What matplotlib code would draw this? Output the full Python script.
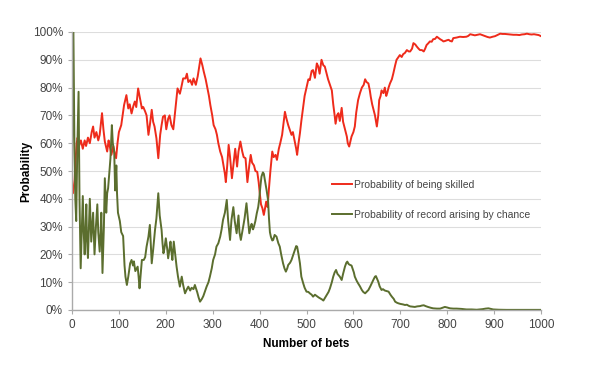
import matplotlib as mpl
mpl.use('Agg')
import matplotlib.pyplot as plt
from matplotlib.ticker import FuncFormatter

plt.rcParams['font.family'] = ['Liberation Sans', 'DejaVu Sans']

# values (bets, percent)
skilled_bets = [0, 2, 5, 8, 10, 12, 15, 19, 23, 27, 30, 34, 38, 42, 45, 48, 52, 56, 59, 64, 67, 70, 75, 78, 80, 84, 88, 90, 94, 97,
                100, 105, 111, 116, 120, 123, 127, 131, 134, 137, 141, 144, 149, 152, 156, 159, 163, 166, 170, 173, 176, 180, 184, 188, 191, 194, 198,
                201, 205, 208, 212, 216, 220, 223, 225, 230, 233, 237, 242, 245, 248, 252, 256, 259, 264, 268, 274, 278, 281, 285, 288, 292, 295, 299,
                302, 306, 309, 312, 316, 320, 323, 326, 328, 331, 334, 337, 341, 344, 348, 352, 355, 359, 363, 366, 370, 374, 378, 381, 384, 388, 391, 395, 398,
                400, 403, 406, 409, 411, 414, 417, 420, 423, 427, 430, 434, 437, 441, 444, 448, 451, 454, 457, 461, 464, 468, 471, 475, 478, 480, 483, 486, 489, 493, 496,
                500, 504, 507, 511, 514, 518, 522, 525, 528, 532, 536, 539, 543, 546, 550, 554, 557, 560, 562, 565, 568, 571, 575, 578, 582, 586, 588, 591, 594, 596,
                600, 603, 606, 610, 614, 618, 622, 625, 628, 632, 635, 637, 640, 642, 646, 650, 653, 655, 658, 660, 664, 667, 670, 672, 675, 678, 682, 685, 689, 692, 696, 699,
                703, 706, 710, 714, 718, 721, 725, 728, 732, 735, 739, 742, 746, 750, 753, 756, 760, 763, 767, 770, 774, 778, 782, 785, 789, 792, 796, 799,
                803, 806, 810, 813, 820, 827, 834, 841, 845, 849, 854, 859, 865, 870, 875, 881, 886, 891, 897,
                902, 908, 913, 918, 923, 929, 934, 941, 948, 954, 959, 965, 970, 975, 980, 985, 991, 995, 1000]
skilled_pct = [47, 42, 45, 55, 60, 62, 59, 61, 58, 61, 59, 62, 60, 64, 66, 62, 64, 61, 63, 70.8, 65, 60.6, 57, 61, 59.4, 55.8, 59, 57, 54.6, 60,
               64, 66.5, 73.7, 77.3, 72.5, 74, 70.7, 73.5, 75, 73, 79.7, 77, 72.5, 73, 71.4, 70, 63, 66.5, 72, 67.7, 66, 61.8, 54.6, 63, 66.5, 69.5, 70,
               65, 68.8, 70, 66.5, 65, 71.4, 76, 79.7, 77.8, 80, 83.3, 83.3, 85, 82, 82.7, 81, 83.3, 81, 84, 90.5, 88, 85.7, 83, 80.4, 77, 73.7, 70,
               66.5, 65, 63, 60, 57, 55, 52, 49, 46, 52, 59.4, 55, 47.4, 52, 58, 51.6, 57, 60.6, 57, 55, 54.6, 46, 52, 55.8, 53, 52, 50, 49.7, 46,
               42.6, 38, 36.6, 34.2, 36, 39, 37, 43.8, 50, 57, 55, 55.8, 54, 58, 60, 63, 67, 71.3, 69, 66.5, 65, 63, 64, 60.6, 58, 55.8, 60, 63.6, 68, 73, 77,
               80, 83, 82.7, 86, 86.3, 83.5, 88.7, 87.6, 85, 90, 88, 87.6, 85, 83, 81, 79, 74, 70, 67, 70, 70.8, 68, 72.7, 67.7, 65, 62.4, 60, 58.8, 61, 62.4,
               64, 66, 71, 75.5, 78, 80, 81, 83, 82, 81.5, 79, 76.7, 74, 72.7, 70, 66, 70, 75.5, 77, 79, 78, 80, 77, 78, 80, 81.5, 83, 85, 88, 90, 91, 91.7,
               91, 92, 92.5, 93.5, 93, 93, 94, 96, 95.5, 94.8, 94, 93.5, 93.5, 93, 94, 95.3, 96, 96.6, 96.5, 97.4, 97.5, 98.3, 97.8, 97.4, 97, 96.6, 96.8, 97,
               97.2, 96.8, 96.6, 97.8, 98, 98.3, 98.2, 98.3, 98.6, 99.2, 99, 98.8, 99, 99.2, 98.9, 98.5, 98.2, 98, 98.3,
               98.5, 99, 99.4, 99.3, 99.3, 99.2, 99.1, 99, 99, 98.9, 99.1, 99.2, 99.4, 99.2, 99.1, 99.2, 99, 98.9, 98.5]

chance_bets = [0, 3, 5, 7, 9, 11, 14, 16, 18.5, 21, 23, 25, 27, 29, 30.5, 32, 34, 36, 38, 40, 41, 43, 45, 47, 48, 51, 54, 56, 59, 61, 62.5, 65, 68,
               70, 73, 75, 77, 80, 82, 85, 87, 90, 92, 94.5, 96, 98, 102, 105, 109, 112, 114, 117, 120, 124, 127, 130, 132, 135, 140, 142, 144, 147, 149,
               153, 156, 159, 163, 166, 168, 170, 173, 177, 180, 184, 187, 191, 193, 195, 197, 200, 203, 205, 208, 210, 212, 214, 217, 220, 223, 226,
               230, 234, 237, 241, 245, 248, 252, 255, 259, 262, 265, 267, 270, 273, 277, 280, 284, 287, 291, 294, 298, 301, 305, 308, 312, 316, 319,
               322, 326, 330, 333, 337, 340, 344, 347, 351, 355, 357, 360, 363, 365, 368, 372, 375, 378, 381, 383, 386, 388, 391, 394, 397, 399,
               402, 404, 407, 409, 412, 415, 418, 420, 422, 424, 427, 429, 432, 436, 440, 443, 446, 450, 453, 456, 459, 461, 465, 468, 472, 475, 478,
               480, 483, 486, 489, 493, 496, 500, 504, 507, 511, 514, 518, 522, 526, 529, 533, 536, 540, 543, 547, 550, 554, 557, 560, 563, 566, 568,
               571, 575, 578, 582, 585, 587, 590, 593, 596, 598, 601, 603, 607, 610, 614, 618, 621, 625, 628, 632, 636, 639, 643, 646, 648, 651, 653,
               656, 660, 663, 667, 671, 675, 679, 682, 686, 689, 693, 696, 700, 706, 710, 714, 718, 721, 726, 731, 736, 742, 746, 750, 754, 759, 765,
               770, 778, 785, 790, 795, 800, 806, 813, 820, 830, 841, 852, 863, 875, 882, 888, 893, 898, 910, 926, 950, 975, 1000]
chance_pct = [50, 100, 62, 40, 32, 55, 78.5, 40, 15, 30, 41, 28, 20, 30, 38, 25, 18.7, 30, 40, 30, 24.6, 30, 35, 25, 20, 30, 38, 28, 21, 28, 35, 13.3, 30,
              47.4, 35, 42, 43.8, 50, 54.6, 66.5, 60, 57, 43, 52, 42, 35, 32, 28, 26.6, 16, 12, 9, 12, 16.8, 18, 16, 17.5, 14, 15.6, 12, 7.8, 14, 18,
              18, 19, 22.8, 26.4, 30.6, 24, 16.8, 21.6, 28.8, 33, 42, 34, 28.8, 24, 20.4, 22, 25.8, 22, 18.6, 22, 24.6, 21, 18, 24.6, 20, 15.6, 12,
              8.4, 12, 9, 6, 7.5, 8.4, 7, 8, 7.5, 9, 7.5, 6.4, 4.5, 3, 4, 5, 7, 8.4, 10, 12, 15, 18, 20, 22.8, 24, 26.4, 29,
              32.4, 35, 39.6, 32, 25.2, 32.4, 37, 32, 27.6, 34, 28, 25.2, 28, 30, 33, 38.4, 33, 27.6, 30, 31, 29, 30, 32, 34.8, 37, 39.6,
              45, 48, 49.5, 49, 46, 43, 39.6, 33, 28, 26.4, 25, 25.2, 27, 26.4, 24, 22.8, 20, 16.8, 15, 13.8, 15, 16.2, 17, 18, 20, 21.6, 23,
              22.8, 20, 16.8, 12, 9.6, 8, 6.6, 6.5, 6, 5.5, 4.8, 5.5, 5, 4.5, 4.2, 3.8, 3.4, 4.5, 5.4, 6.5, 7.8, 10, 12, 13.5, 14.4, 13, 12.6,
              12, 10.8, 13, 15.6, 17, 17.4, 16.5, 16.2, 16, 15, 13.5, 12, 10.5, 9.6, 8.5, 7.2, 6.5, 6, 6.5, 7.2, 8.5, 9.6, 11, 12, 12.2, 11, 10.2,
              8.5, 7.2, 7.5, 7, 6.8, 6.6, 5.5, 4.8, 4, 3, 2.6, 2.4, 2.2, 2, 1.8, 1.9, 1.5, 1.3, 1.2, 1.1, 1.3, 1.4, 1.6, 1.7, 1.4, 1.1, 0.8,
              0.6, 0.5, 0.5, 0.8, 1.1, 0.9, 0.6, 0.5, 0.5, 0.4, 0.2, 0.2, 0.1, 0.3, 0.5, 0.6, 0.4, 0.2, 0.1, 0.05, 0.05, 0.05, 0.05]

labels = ['Probability of being skilled', 'Probability of record arising by chance']
colors = ['#ee2b1b', '#5b6e2e']

fig = plt.figure(figsize=(6.13, 3.78), dpi=100)
ax = fig.add_axes([72 / 613, 1 - 310 / 378, 469 / 613, 278 / 378])

ax.plot(skilled_bets, skilled_pct, color=colors[0], lw=1.4, label=labels[0])
ax.plot(chance_bets, chance_pct, color=colors[1], lw=1.4, label=labels[1])

ax.set_xlim(0, 1000)
ax.set_ylim(0, 100)
ax.set_xticks(range(0, 1001, 100))
ax.set_yticks(range(0, 101, 10))
ax.yaxis.set_major_formatter(FuncFormatter(lambda v, p: '%d%%' % v))
ax.grid(axis='y', color='#dddddd', lw=0.8)
ax.set_axisbelow(True)

for s in ['top', 'right']:
  ax.spines[s].set_visible(False)
for s in ['left', 'bottom']:
  ax.spines[s].set_color('#aaaaaa')
  ax.spines[s].set_linewidth(1.0)
ax.tick_params(colors='#aaaaaa', labelcolor='#444444', labelsize=8.5, length=3, width=0.8)

ax.set_xlabel('Number of bets', fontsize=8.5, fontweight='bold', labelpad=5)
ax.set_ylabel('Probability', fontsize=8.5, fontweight='bold', labelpad=0)

leg = ax.legend(loc='upper left', bbox_to_anchor=((332 - 72) / 469, (310 - 180) / 278), frameon=False,
                fontsize=7.5, labelspacing=1.9, handlelength=1.9, handletextpad=0.25, borderpad=0, borderaxespad=0)
for t in leg.get_texts():
  t.set_color('#444444')

plt.savefig('out.png', dpi=100)
plt.close()
